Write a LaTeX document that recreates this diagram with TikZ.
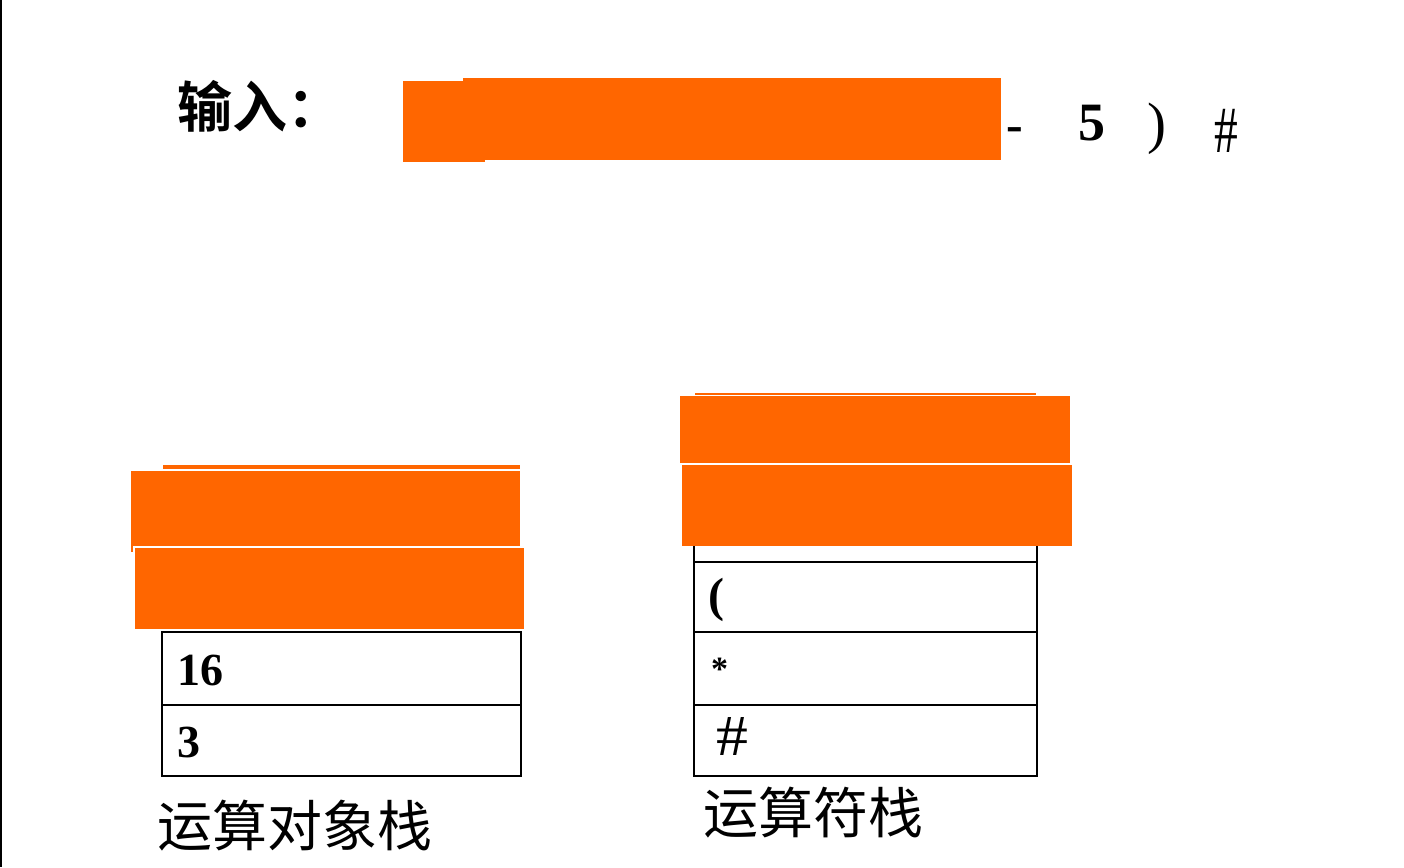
\documentclass[tikz,border=0pt]{standalone}
\usepackage{fontspec}
\setmainfont{Liberation Serif}
\newfontfamily\cjk{Noto Sans CJK SC}
\newfontfamily\cjkb{Noto Sans CJK SC Bold}
\definecolor{maskorange}{HTML}{FF6600}
\tikzset{
  cell/.style={draw=black,line width=1.6pt,fill=white,rectangle,inner sep=0pt},
  mask/.style={fill=maskorange},
  glyph/.style={inner sep=0pt,anchor=base west},
  cnlabel/.style={inner sep=0pt,anchor=west,font=\cjk\fontsize{55}{60}\selectfont},
}
\begin{document}
\begin{tikzpicture}[x=1pt,y=-1pt]
\useasboundingbox (0,0) rectangle (1404,867);
\fill[white] (0,0) rectangle (1404,867);
\draw[line width=2pt] (1,0) -- (1,867);

% input line
\node[inner sep=0pt,anchor=west,font=\cjkb\fontsize{55}{60}\selectfont] (inlabel) at (177,106) {输入：};
\fill[mask] (403,81) rectangle (485,162);
\fill[mask] (463,78) rectangle (1001,160);
\node[glyph,font=\bfseries\fontsize{50}{56}\selectfont] (minus) at (1006,141) {-};
\node[glyph,font=\bfseries\fontsize{54}{60}\selectfont] (five) at (1078,140) {5};
\node[glyph,font=\fontsize{57}{62}\selectfont] (rpar) at (1147,142) {)};
\node[glyph,font=\fontsize{66}{72}\selectfont] (hashin) at (1214,152) {\scalebox{0.72}[1]{\#}};

% left stack (operands)
\node[cell,minimum width=359pt,minimum height=73pt] (l1) at (341.5,668.5) {};
\node[cell,minimum width=359pt,minimum height=71pt] (l0) at (341.5,740.5) {};
\node[glyph,font=\bfseries\fontsize{46}{52}\selectfont] (v16) at (177,685) {16};
\node[glyph,font=\bfseries\fontsize{46}{52}\selectfont] (v3) at (177,757) {3};
\fill[mask] (163,465) rectangle (520,469);
\fill[mask] (131,471) rectangle (520,546);
\fill[mask] (131,546) rectangle (133,552);
\fill[mask] (135,548) rectangle (524,629);
\node[cnlabel] (ltitle) at (157,826) {运算对象栈};

% right stack (operators)
\node[cell,minimum width=343pt,minimum height=82pt] (r3) at (865.5,521) {};
\node[cell,minimum width=343pt,minimum height=70pt] (r2) at (865.5,597) {};
\node[cell,minimum width=343pt,minimum height=73pt] (r1) at (865.5,668.5) {};
\node[cell,minimum width=343pt,minimum height=71pt] (r0) at (865.5,740.5) {};
\node[glyph,font=\bfseries\fontsize{48}{54}\selectfont] (lpar) at (708,611) {(};
\node[glyph,font=\bfseries\fontsize{34}{40}\selectfont] (star) at (711,680) {*};
\node[glyph,font=\fontsize{58}{64}\selectfont] (hashst) at (716,755) {\scalebox{1.1}[1]{\#}};
\fill[mask] (695,392.5) rectangle (1036,394.5);
\fill[mask] (680,396) rectangle (1070,463);
\fill[mask] (682,465) rectangle (1072,546);
\node[cnlabel] (rtitle) at (703,813) {运算符栈};
\end{tikzpicture}
\end{document}
